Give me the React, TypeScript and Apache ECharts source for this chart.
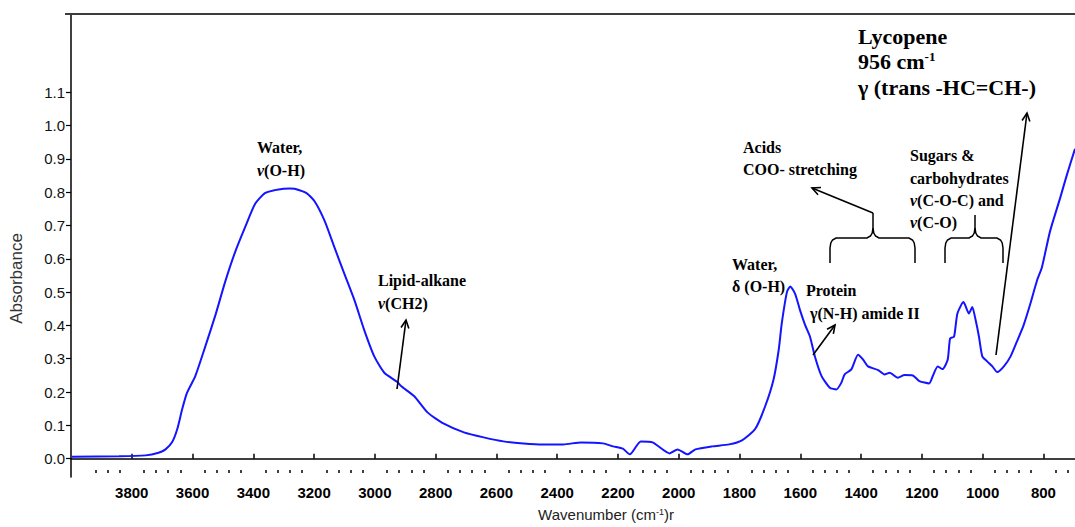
import React, { useEffect, useRef } from "react";
import * as echarts from "echarts";

// Spectrum (wavenumber in cm-1, absorbance)
const wavenumbers = [
  3998, 3842, 3754, 3712, 3689, 3667, 3650, 3634, 3618, 3591, 3558, 3525, 3493, 3460, 3427, 3394,
  3362, 3329, 3300, 3280, 3264, 3225, 3198, 3165, 3133, 3100, 3067, 3035, 3002, 2969, 2926, 2914,
  2871, 2827, 2773, 2707, 2642, 2577, 2511, 2446, 2380, 2321, 2249, 2216, 2184, 2161, 2125, 2086,
  2030, 2004, 1971, 1945, 1890, 1834, 1792, 1748, 1715, 1688, 1671, 1661, 1644, 1633, 1617, 1601,
  1584, 1568, 1552, 1530, 1503, 1481, 1465, 1454, 1432, 1410, 1393, 1377, 1344, 1323, 1306, 1279,
  1257, 1230, 1208, 1176, 1164, 1148, 1132, 1115, 1107, 1094, 1083, 1063, 1045, 1034, 1023, 1012,
  1001, 985, 968, 952, 930, 908, 887, 865, 843, 821, 805, 778, 745, 723, 696,
];
const absorbance = [
  0.006, 0.007, 0.010, 0.018, 0.028, 0.050, 0.090, 0.149, 0.198, 0.248, 0.337, 0.430, 0.530, 0.620, 0.695, 0.765,
  0.797, 0.806, 0.810, 0.811, 0.810, 0.797, 0.772, 0.713, 0.634, 0.554, 0.475, 0.386, 0.307, 0.258, 0.230, 0.218,
  0.188, 0.139, 0.105, 0.079, 0.064, 0.052, 0.046, 0.043, 0.043, 0.049, 0.046, 0.037, 0.030, 0.013, 0.052, 0.049,
  0.016, 0.028, 0.013, 0.028, 0.037, 0.043, 0.055, 0.090, 0.159, 0.238, 0.327, 0.406, 0.500, 0.517, 0.495, 0.446,
  0.401, 0.366, 0.307, 0.248, 0.213, 0.208, 0.228, 0.253, 0.268, 0.312, 0.297, 0.277, 0.266, 0.253, 0.258, 0.243,
  0.251, 0.250, 0.233, 0.226, 0.248, 0.277, 0.269, 0.297, 0.361, 0.366, 0.436, 0.470, 0.436, 0.455, 0.416, 0.366,
  0.307, 0.292, 0.277, 0.260, 0.277, 0.307, 0.352, 0.401, 0.465, 0.535, 0.574, 0.683, 0.782, 0.851, 0.930,
];

const xTickLabels = [3800, 3600, 3400, 3200, 3000, 2800, 2600, 2400, 2200, 2000, 1800, 1600, 1400, 1200, 1000, 800];
const yTickLabels = [0.0, 0.1, 0.2, 0.3, 0.4, 0.5, 0.6, 0.7, 0.8, 0.9, 1.0, 1.1];
const minorXTicks: number[] = [];
for (let v = 3920; v >= 720; v -= 40) {
  if (v % 200 !== 0) minorXTicks.push(v);
}

const SERIF = '"Liberation Serif", "Times New Roman", serif';
const SANS = '"Liberation Sans", Arial, sans-serif';

function txt(x: number, y: number, text: string, size = 16) {
  return {
    type: "text",
    x,
    y,
    z: 10,
    style: {
      text,
      fontFamily: SERIF,
      fontSize: size,
      fontWeight: "bold",
      fill: "#000",
      align: "left",
      verticalAlign: "middle",
      rich: {
        i: { fontFamily: SERIF, fontSize: size, fontWeight: "bold", fontStyle: "italic", fill: "#000" },
        sup: { fontFamily: SERIF, fontSize: Math.round(size * 0.6), fontWeight: "bold", fill: "#000", verticalAlign: "top", padding: [0, 0, 8, 0] },
      },
    },
  };
}

function arrow(x1: number, y1: number, x2: number, y2: number) {
  const a = Math.atan2(y2 - y1, x2 - x1);
  const len = 9;
  const s = 0.45;
  return [
    { type: "line", z: 10, shape: { x1, y1, x2, y2 }, style: { stroke: "#000", lineWidth: 1.6 } },
    {
      type: "polyline",
      z: 10,
      shape: {
        points: [
          [x2 - len * Math.cos(a - s), y2 - len * Math.sin(a - s)],
          [x2, y2],
          [x2 - len * Math.cos(a + s), y2 - len * Math.sin(a + s)],
        ],
      },
      style: { stroke: "#000", lineWidth: 1.6, fill: null },
    },
  ];
}

function brace(xL: number, xR: number, xm: number, h: number, yb: number, yt: number) {
  const left = [
    [xL, yb], [xL, h + 10], [xL + 0.8, h + 5], [xL + 2.5, h + 2], [xL + 6, h],
    [xm - 6, h], [xm - 2.5, h - 2], [xm - 0.8, h - 5], [xm, h - 10], [xm, yt],
  ];
  const right = [
    [xm, h - 10], [xm + 0.8, h - 5], [xm + 2.5, h - 2], [xm + 6, h],
    [xR - 6, h], [xR - 2.5, h + 2], [xR - 0.8, h + 5], [xR, h + 10], [xR, yb],
  ];
  return [
    { type: "polyline", z: 10, shape: { points: left }, style: { stroke: "#000", lineWidth: 1.5, fill: null } },
    { type: "polyline", z: 10, shape: { points: right }, style: { stroke: "#000", lineWidth: 1.5, fill: null } },
  ];
}

export default function App() {
  const ref = useRef<HTMLDivElement>(null);
  useEffect(() => {
    document.body.style.margin = "0";
    if (!ref.current) return;
    const chart = echarts.init(ref.current, null, { renderer: "svg" });
    const data = wavenumbers.map((w, i) => [w, absorbance[i]]);
    chart.setOption({
      animation: false,
      backgroundColor: "#fff",
      grid: { left: 65, right: 0, top: 14, bottom: 45, containLabel: false },
      xAxis: [
        {
          type: "value",
          inverse: true,
          min: 696,
          max: 4000,
          name: "Wavenumber (cm{sup|-1})r",
          nameLocation: "middle",
          nameGap: 30,
          nameTextStyle: {
            fontFamily: SANS,
            fontSize: 15,
            color: "#222",
            padding: [0, 0, 0, 66],
            rich: { sup: { fontFamily: SANS, fontSize: 9, color: "#222", verticalAlign: "top", padding: [0, 0, 6, 0] } },
          },
          axisLine: { show: true, lineStyle: { color: "#000", width: 1.5 } },
          axisTick: { show: true, inside: true, length: 5, customValues: xTickLabels, lineStyle: { color: "#000", width: 1.5 } },
          axisLabel: {
            customValues: xTickLabels,
            formatter: (v: number) => String(v),
            fontFamily: SANS,
            fontSize: 15,
            fontWeight: "bold",
            color: "#000",
            margin: 8,
          },
          splitLine: { show: false },
        },
        {
          type: "value",
          inverse: true,
          min: 696,
          max: 4000,
          position: "bottom",
          offset: -4,
          axisLine: { show: false },
          axisTick: { show: true, inside: true, length: 3, customValues: minorXTicks, lineStyle: { color: "#000", width: 1.5 } },
          axisLabel: { show: false },
          splitLine: { show: false },
        },
      ],
      yAxis: {
        type: "value",
        min: -0.0549,
        max: 1.3346,
        name: "Absorbance",
        nameLocation: "middle",
        nameRotate: 90,
        nameGap: 46,
        nameTextStyle: { fontFamily: SANS, fontSize: 17, color: "#333", padding: [0, 66, 0, 0] },
        axisLine: { show: true, lineStyle: { color: "#000", width: 1.5 } },
        axisTick: { show: true, inside: false, length: 5, customValues: yTickLabels, lineStyle: { color: "#000", width: 1.2 } },
        axisLabel: {
          customValues: yTickLabels,
          formatter: (v: number) => v.toFixed(1),
          fontFamily: SANS,
          fontSize: 15,
          color: "#111",
          margin: 6,
        },
        splitLine: { show: false },
      },
      series: [
        {
          type: "line",
          data,
          symbol: "none",
          smooth: 0.2,
          lineStyle: { color: "#1414ff", width: 2 },
        },
      ],
      graphic: [
        { type: "line", z: 10, shape: { x1: 65, y1: 14, x2: 1075, y2: 14 }, style: { stroke: "#3c3c3c", lineWidth: 2 } },
        txt(257, 147, "Water,"),
        txt(257, 170, "{i|ν}(O-H)"),
        txt(378, 280, "Lipid-alkane"),
        txt(378, 303, "{i|ν}(CH2)"),
        ...arrow(397, 389, 406, 320),
        txt(743, 147, "Acids"),
        txt(743, 169, "COO- stretching"),
        ...arrow(873, 213, 812, 188),
        ...brace(830, 915, 873, 238, 263, 213),
        txt(910, 155, "Sugars &"),
        txt(910, 178, "carbohydrates"),
        txt(910, 200, "{i|ν}(C-O-C) and"),
        txt(910, 222, "{i|ν}(C-O)"),
        ...brace(945, 1003, 975, 238, 263, 215),
        txt(732, 264, "Water,"),
        txt(732, 286, "δ (O-H)"),
        txt(806, 290, "Protein"),
        txt(810, 313, "γ(N-H) amide II"),
        ...arrow(813, 355, 835, 325),
        txt(858, 36, "Lycopene", 22),
        txt(858, 61, "956 cm{sup|-1}", 22),
        txt(858, 87, "γ (trans -HC=CH-)", 22),
        ...arrow(996, 355, 1027, 113),
      ],
    });
    return () => chart.dispose();
  }, []);
  return <div ref={ref} style={{ position: "absolute", left: 0, top: 0, width: 1075, height: 527 }} />;
}
